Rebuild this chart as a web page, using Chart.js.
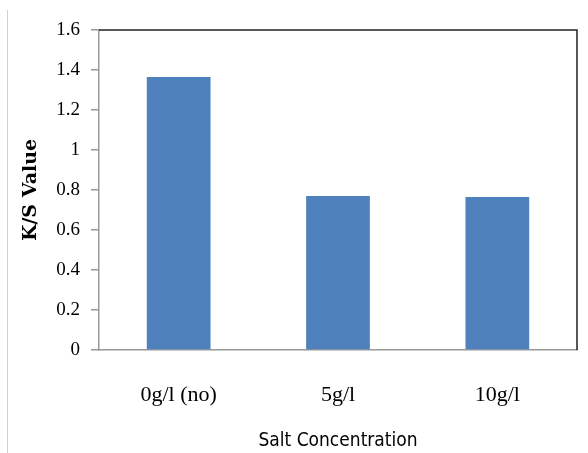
<!DOCTYPE html>
<html>
<head>
<meta charset="utf-8">
<script src="https://cdn.jsdelivr.net/npm/chart.js@4"></script>
<style>
  html, body { margin: 0; padding: 0; background: #fff; }
  .wrap { position: relative; width: 588px; height: 453px; }
  .frame { position: absolute; left: 7px; top: 10px; bottom: 0; border-left: 1px solid #d0d0d0; }
</style>
</head>
<body>
<div class="wrap">
  <div class="frame"></div>
  <canvas id="chart" width="588" height="453"></canvas>
</div>
<script>
// data
const categories = ['0g/l (no)', '5g/l', '10g/l'];
const ksValues = [1.365, 0.77, 0.765];
const yTicks = ['0', '0.2', '0.4', '0.6', '0.8', '1', '1.2', '1.4', '1.6'];

// dark line along top and right of the plot
const frameLines = {
  id: 'frameLines',
  afterDraw(chart) {
    const { ctx, chartArea: a } = chart;
    ctx.save();
    ctx.strokeStyle = '#222';
    ctx.lineWidth = 1.5;
    ctx.beginPath();
    ctx.moveTo(a.left, a.top);
    ctx.lineTo(a.right, a.top);
    ctx.lineTo(a.right, a.bottom);
    ctx.stroke();
    ctx.restore();
  }
};

const ctx = document.getElementById('chart').getContext('2d');
new Chart(ctx, {
  type: 'bar',
  data: {
    labels: categories,
    datasets: [{
      data: ksValues,
      backgroundColor: '#4F81BD',
      categoryPercentage: 1,
      barPercentage: 0.4
    }]
  },
  options: {
    responsive: false,
    animation: false,
    layout: { padding: { top: 30, right: 11, left: 0, bottom: 0 } },
    plugins: { legend: { display: false }, tooltip: { enabled: false } },
    scales: {
      x: {
        grid: { display: false },
        border: { color: '#999', width: 1.5 },
        ticks: {
          color: '#000',
          padding: 24,
          font: { family: 'Liberation Serif', size: 22 }
        },
        title: {
          display: true,
          text: 'Salt Concentration',
          color: '#000',
          padding: { bottom: 1 },
          font: { family: 'DejaVu Sans Condensed', size: 19 }
        },
        afterFit(scale) { scale.height = 103; }
      },
      y: {
        min: 0,
        max: 1.6,
        grid: { drawOnChartArea: false, drawTicks: true, tickLength: 8, color: '#999', lineWidth: 1.5 },
        border: { color: '#999', width: 1.5 },
        ticks: {
          stepSize: 0.2,
          color: '#000',
          padding: 11,
          font: { family: 'Liberation Serif', size: 19 },
          callback: (v, i) => yTicks[i]
        },
        title: {
          display: true,
          text: 'K/S Value',
          color: '#000',
          padding: { top: 20 },
          font: { family: 'DejaVu Serif', size: 19, weight: 'bold' }
        },
        afterFit(scale) { scale.width = 99; }
      }
    }
  },
  plugins: [frameLines]
});
</script>
</body>
</html>
